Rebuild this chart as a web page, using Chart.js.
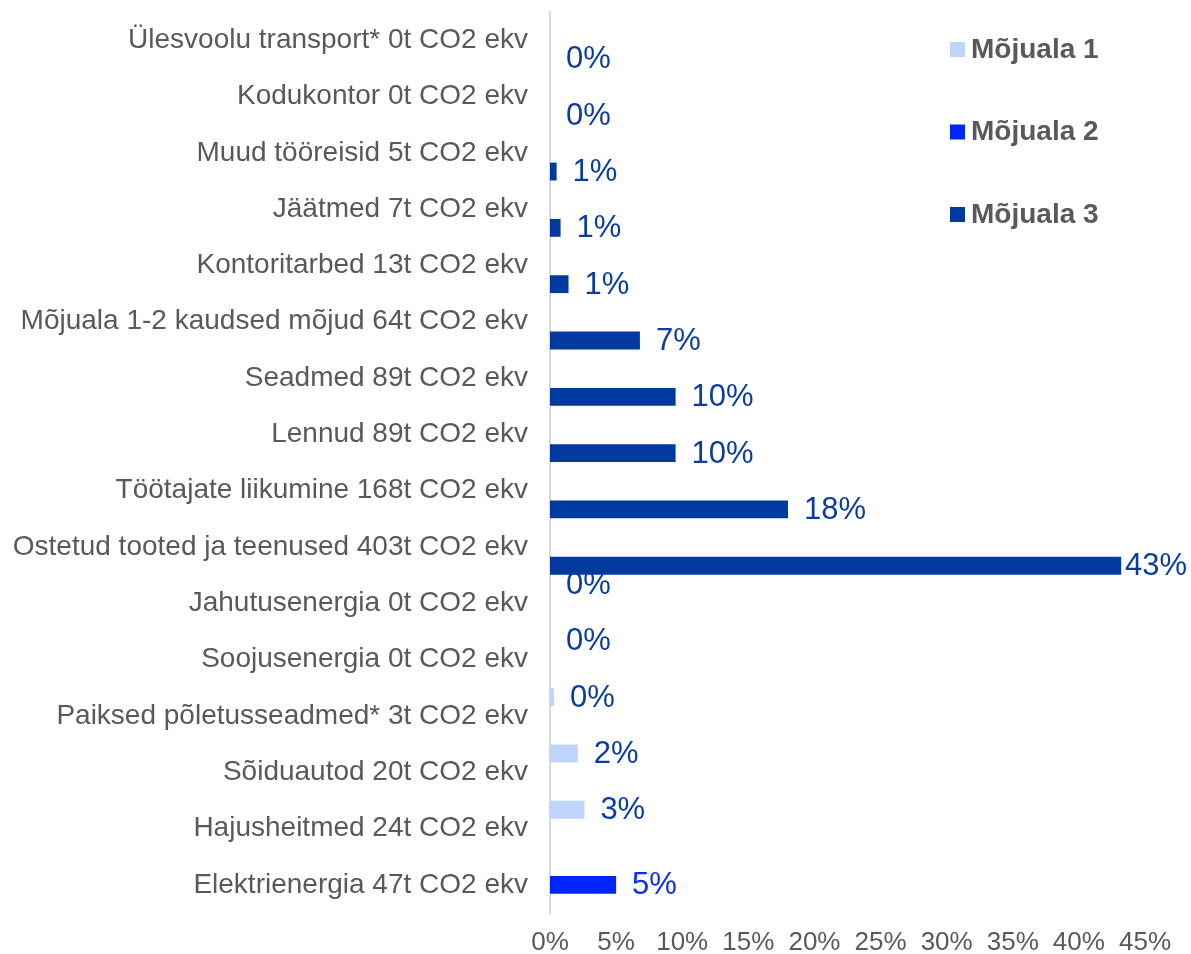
<!DOCTYPE html>
<html>
<head>
<meta charset="utf-8">
<title>CO2 jalajälg mõjualade kaupa</title>
<script src="https://cdn.jsdelivr.net/npm/chart.js@4/dist/chart.umd.min.js"></script>
<style>
  html, body { margin: 0; padding: 0; background: #fff; }
  #wrap { width: 1191px; height: 954px; }
</style>
</head>
<body>
<div id="wrap"><canvas id="chart" width="1191" height="954"></canvas></div>
<script>
// Categories, top to bottom
const categories = [
    'Ülesvoolu transport* 0t CO2 ekv',
    'Kodukontor 0t CO2 ekv',
    'Muud tööreisid 5t CO2 ekv',
    'Jäätmed 7t CO2 ekv',
    'Kontoritarbed 13t CO2 ekv',
    'Mõjuala 1-2 kaudsed mõjud 64t CO2 ekv',
    'Seadmed 89t CO2 ekv',
    'Lennud 89t CO2 ekv',
    'Töötajate liikumine 168t CO2 ekv',
    'Ostetud tooted ja teenused 403t CO2 ekv',
    'Jahutusenergia 0t CO2 ekv',
    'Soojusenergia 0t CO2 ekv',
    'Paiksed põletusseadmed* 3t CO2 ekv',
    'Sõiduautod 20t CO2 ekv',
    'Hajusheitmed 24t CO2 ekv',
    'Elektrienergia 47t CO2 ekv'
];

// Share of total, % (null = category not in this scope)
const mojuala1 = [null, null, null, null, null, null, null, null, null, null, 0, 0, 0.3, 2.1, 2.6, null];
const mojuala2 = [null, null, null, null, null, null, null, null, null, null, null, null, null, null, null, 5.0];
const mojuala3 = [0, 0, 0.5, 0.8, 1.4, 6.8, 9.5, 9.5, 18.0, 43.2, null, null, null, null, null, null];

const xTicks = [0, 5, 10, 15, 20, 25, 30, 35, 40, 45];

const FONT = '"Liberation Sans", Arial, sans-serif';
const GREY = '#595959';

// Value labels next to each bar
const valueLabels = {
    id: 'valueLabels',
    afterDatasetsDraw(chart) {
        const { ctx } = chart;
        ctx.save();
        ctx.font = '31px ' + FONT;
        ctx.textBaseline = 'middle';
        ctx.textAlign = 'left';
        chart.data.datasets.forEach((ds, i) => {
            const meta = chart.getDatasetMeta(i);
            meta.data.forEach((bar, j) => {
                const v = ds.data[j];
                if (v === null || v === undefined) return;
                const text = Math.round(v) + '%';
                const w = ctx.measureText(text).width;
                let x = bar.x + 16;
                if (x + w > chart.width - 4) x = chart.width - 4 - w;
                ctx.fillStyle = ds.labelColor;
                ctx.fillText(text, x, bar.y + 1);
            });
        });
        ctx.restore();
    }
};

// Legend drawn in the top right corner
const cornerLegend = {
    id: 'cornerLegend',
    afterDraw(chart) {
        const { ctx } = chart;
        ctx.save();
        ctx.font = 'bold 28px ' + FONT;
        ctx.textBaseline = 'middle';
        ctx.textAlign = 'left';
        chart.data.datasets.forEach((ds, i) => {
            const y = 49 + i * 82.5;
            ctx.fillStyle = ds.backgroundColor;
            ctx.fillRect(950, y - 7, 15, 15);
            ctx.fillStyle = GREY;
            ctx.fillText(ds.label, 971, y + 1);
        });
        ctx.restore();
    }
};

function initChart() {
    const ctx = document.getElementById('chart').getContext('2d');
    return new Chart(ctx, {
        type: 'bar',
        data: {
            labels: categories,
            datasets: [
                { label: 'Mõjuala 1', data: mojuala1, backgroundColor: '#BDD5FC', labelColor: '#0B3C9F' },
                { label: 'Mõjuala 2', data: mojuala2, backgroundColor: '#0026FF', labelColor: '#0A2BFF' },
                { label: 'Mõjuala 3', data: mojuala3, backgroundColor: '#003A9F', labelColor: '#0B3C9F' }
            ]
        },
        plugins: [valueLabels, cornerLegend],
        options: {
            indexAxis: 'y',
            responsive: false,
            animation: false,
            categoryPercentage: 1.0,
            barPercentage: 0.95,
            layout: {
                padding: { left: 12, top: 12, right: 46, bottom: 0 }
            },
            plugins: {
                legend: { display: false },
                tooltip: { enabled: false }
            },
            scales: {
                x: {
                    min: 0,
                    max: 45,
                    afterBuildTicks: (scale) => {
                        scale.ticks = xTicks.map(v => ({ value: v }));
                    },
                    afterFit: (scale) => { scale.height = 41; },
                    grid: { display: false, tickLength: 0 },
                    border: { display: false },
                    ticks: {
                        padding: 14,
                        color: GREY,
                        font: { family: FONT, size: 26 },
                        callback: (v) => v + '%'
                    }
                },
                y: {
                    afterFit: (scale) => {
                        scale.width = 538;
                        scale.paddingTop = 0;
                        scale.paddingBottom = 0;
                    },
                    grid: { display: false, tickLength: 0 },
                    border: { display: true, color: '#D9D9D9', width: 2 },
                    ticks: {
                        padding: 22,
                        color: GREY,
                        font: { family: FONT, size: 28 }
                    }
                }
            }
        }
    });
}

document.addEventListener('DOMContentLoaded', () => {
    initChart();
});
</script>
</body>
</html>
